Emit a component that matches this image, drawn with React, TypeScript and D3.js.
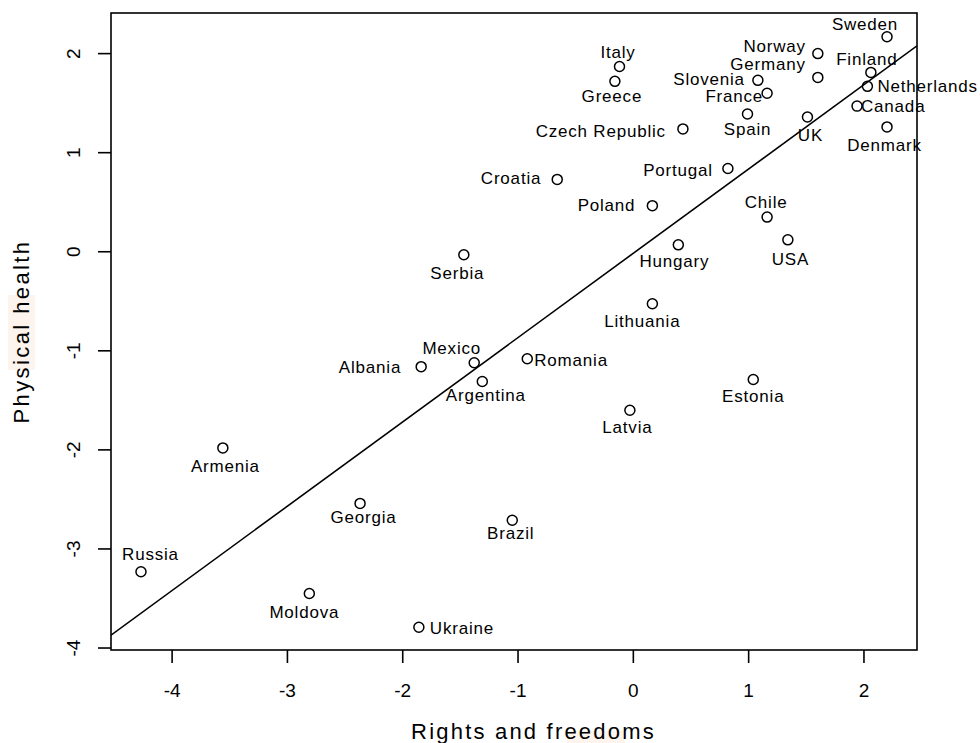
import React from "react";
import * as d3 from "d3";

const COUNTRIES = ["Sweden","Norway","Italy","Finland","Germany","Slovenia","Greece","Netherlands","France","Canada","Spain","UK","Denmark","Czech Republic","Portugal","Croatia","Poland","Chile","USA","Hungary","Serbia","Lithuania","Romania","Mexico","Albania","Estonia","Argentina","Latvia","Armenia","Georgia","Brazil","Russia","Moldova","Ukraine"];
const RIGHTS = [2.20,1.60,-0.12,2.06,1.60,1.08,-0.16,2.03,1.16,1.94,0.99,1.51,2.20,0.43,0.82,-0.66,0.165,1.16,1.34,0.39,-1.47,0.165,-0.92,-1.38,-1.84,1.04,-1.31,-0.03,-3.56,-2.37,-1.05,-4.27,-2.81,-1.86];
const HEALTH = [2.17,2.00,1.87,1.81,1.76,1.73,1.72,1.67,1.60,1.47,1.39,1.36,1.26,1.24,0.84,0.73,0.465,0.35,0.12,0.07,-0.03,-0.525,-1.08,-1.12,-1.16,-1.29,-1.31,-1.60,-1.98,-2.54,-2.71,-3.23,-3.45,-3.79];
const X_TICKS = [-4,-3,-2,-1,0,1,2];
const Y_TICKS = [-4,-3,-2,-1,0,1,2];
const FIT_INTERCEPT = -0.015;
const FIT_SLOPE = 0.851;
const X_TITLE = "Rights and freedoms";
const Y_TITLE = "Physical health";

// label layout: [anchor, dx, dy]
const LABEL_LAYOUT: Record<string, [string, number, number]> = {
  "Sweden": ["middle", -22, -7],
  "Norway": ["end", -12, -2],
  "Italy": ["middle", -1.5, -8],
  "Finland": ["middle", -4, -7],
  "Germany": ["end", -12, -7],
  "Slovenia": ["end", -13, 5],
  "Greece": ["middle", -3, 21],
  "Netherlands": ["start", 10, 6],
  "France": ["end", -4, 8.5],
  "Canada": ["start", 4, 6],
  "Spain": ["middle", 0, 21],
  "UK": ["middle", 3, 24],
  "Denmark": ["middle", -2.5, 24],
  "Czech Republic": ["end", -17, 8],
  "Portugal": ["end", -15, 7],
  "Croatia": ["end", -16, 5],
  "Poland": ["end", -17, 5],
  "Chile": ["middle", -1, -9],
  "USA": ["middle", 2.5, 25],
  "Hungary": ["middle", -4, 22],
  "Serbia": ["middle", -6.5, 24],
  "Lithuania": ["middle", -10, 23],
  "Romania": ["start", 7, 7],
  "Mexico": ["middle", -22.5, -9],
  "Albania": ["end", -20, 6],
  "Estonia": ["middle", 0, 22],
  "Argentina": ["middle", 3.5, 19],
  "Latvia": ["middle", -2.5, 23],
  "Armenia": ["middle", 2.5, 24],
  "Georgia": ["middle", 3.5, 20],
  "Brazil": ["middle", -1.5, 19],
  "Russia": ["middle", 9.5, -12],
  "Moldova": ["middle", -5, 24],
  "Ukraine": ["start", 11, 7],
};

const W = 980, H = 743;
const L = 111, R = 917, T = 13, B = 650;
const FONT = "'Liberation Sans', Arial, Helvetica, sans-serif";

export default function App() {
  const x = d3.scaleLinear().domain([-4.53, 2.46]).range([L, R]);
  const y = d3.scaleLinear().domain([-4.02, 2.41]).range([B, T]);
  const [x0, x1] = x.domain();
  const line = d3.line<number>().x(d => x(d)).y(d => y(FIT_INTERCEPT + FIT_SLOPE * d));
  const fmt = (t: number) => (t < 0 ? "-" + Math.abs(t) : String(t));
  return (
    <svg width={W} height={H} style={{ position: "absolute", left: 0, top: 0, background: "#fff" }} fontFamily={FONT}>
      <rect x={0} y={0} width={W} height={H} fill="#fff" />
      <rect x={8} y={295} width={27} height={75} fill="#fdf4ed" />
      <rect x={567} y={731} width={58} height={12} fill="#fdf4ed" />
      <defs>
        <clipPath id="plotclip"><rect x={L} y={T} width={R - L} height={B - T} /></clipPath>
      </defs>
      <path d={line([x0, x1]) || ""} stroke="#000" strokeWidth={1.6} fill="none" clipPath="url(#plotclip)" />
      {COUNTRIES.map((c, i) => (
        <circle key={c} cx={x(RIGHTS[i])} cy={y(HEALTH[i])} r={5} fill="none" stroke="#000" strokeWidth={1.5} />
      ))}
      {COUNTRIES.map((c, i) => {
        const [anchor, dx, dy] = LABEL_LAYOUT[c];
        return (
          <text key={c} x={x(RIGHTS[i]) + dx} y={y(HEALTH[i]) + dy} textAnchor={anchor as any}
            fontSize={17} letterSpacing={0.8} fill="#000">{c}</text>
        );
      })}
      <rect x={L} y={T} width={R - L} height={B - T} fill="none" stroke="#000" strokeWidth={1.6} />
      {X_TICKS.map(t => (
        <g key={"x" + t}>
          <line x1={x(t)} x2={x(t)} y1={B} y2={B + 13} stroke="#000" strokeWidth={1.6} />
          <text x={x(t)} y={697} textAnchor="middle" fontSize={19} fill="#000">{fmt(t)}</text>
        </g>
      ))}
      {Y_TICKS.map(t => (
        <g key={"y" + t}>
          <line x1={L - 13} x2={L} y1={y(t)} y2={y(t)} stroke="#000" strokeWidth={1.6} />
          <text transform={`translate(80,${y(t)}) rotate(-90)`} textAnchor="middle" fontSize={19} fill="#000">{fmt(t)}</text>
        </g>
      ))}
      <text x={533.5} y={739} textAnchor="middle" fontSize={22} letterSpacing={2.2} fill="#000">{X_TITLE}</text>
      <text transform={`translate(29,${(T + B) / 2}) rotate(-90)`} textAnchor="middle" fontSize={22} letterSpacing={2.4} fill="#000">{Y_TITLE}</text>
    </svg>
  );
}
